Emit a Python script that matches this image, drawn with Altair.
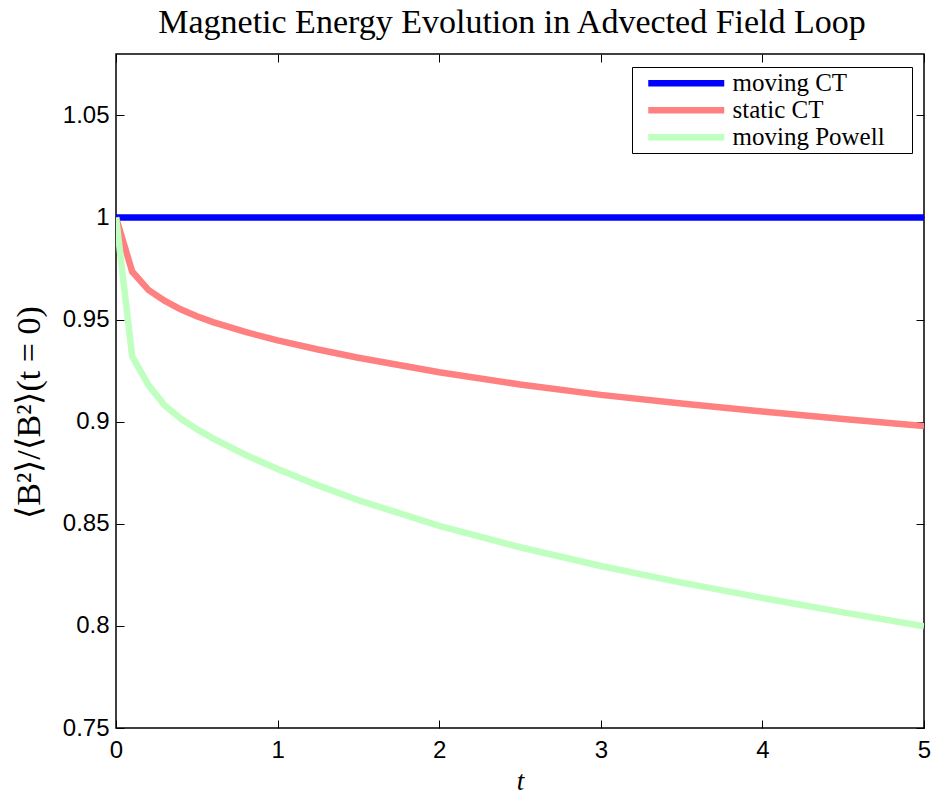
import altair as alt
import pandas as pd

# ---- data ----
t_static = [0.0, 0.1, 0.2, 0.3, 0.4, 0.5, 0.6, 0.8, 1.0, 1.25, 1.5, 2.0, 2.5, 3.0, 3.5, 4.0, 4.5, 5.0]
static_ct = [1.0, 0.9735, 0.9645, 0.9592, 0.955, 0.9516, 0.9487, 0.9439, 0.9398, 0.9353, 0.9313,
             0.9242, 0.9182, 0.9131, 0.9089, 0.905, 0.9013, 0.8978]

t_powell = [0.0, 0.1, 0.2, 0.3, 0.4, 0.5, 0.6, 0.8, 1.0, 1.25, 1.5, 2.0, 2.5, 3.0, 3.5, 4.0, 4.5, 5.0]
moving_powell = [1.0, 0.932, 0.918, 0.908, 0.9015, 0.8963, 0.8918, 0.8838, 0.8768, 0.8688, 0.8615,
                 0.849, 0.8385, 0.8293, 0.8212, 0.8137, 0.8066, 0.7998]

t_moving = [0.0, 1.0, 2.0, 3.0, 4.0, 5.0]
moving_ct = [1.0, 1.0, 1.0, 1.0, 1.0, 1.0]

series_names = ["moving CT", "static CT", "moving Powell"]
series_colors = ["#0000ff", "#ff8080", "#bfffbf"]

x_ticks = [0, 1, 2, 3, 4, 5]
y_ticks = [0.75, 0.8, 0.85, 0.9, 0.95, 1.0, 1.05]

rows = []
for name, ts, vs, order in [
    ("moving CT", t_moving, moving_ct, 0),
    ("static CT", t_static, static_ct, 1),
    ("moving Powell", t_powell, moving_powell, 2),
]:
    for t, v in zip(ts, vs):
        rows.append({"t": t, "ratio": v, "series": name, "ord": order})
df = pd.DataFrame(rows)

W, H = 808, 674
TICK = 8
SANS = "Liberation Sans"
SERIF = "Liberation Serif"

xscale = alt.Scale(domain=[0, 5], nice=False, zero=False)
yscale = alt.Scale(domain=[0.75, 1.08], nice=False, zero=False)

base = alt.Chart(df)

lines = base.mark_line(strokeWidth=6.5, clip=True).encode(
    x=alt.X("t:Q", scale=xscale,
            axis=alt.Axis(orient="bottom", values=x_ticks, ticks=False, tickSize=0, domain=False,
                          grid=False, labelFlush=False, labelFont=SANS, labelFontSize=24,
                          labelColor="black", labelPadding=10, format="d",
                          title="t", titleFont=SERIF, titleFontStyle="italic",
                          titleFontWeight="normal", titleFontSize=27, titleColor="black",
                          titlePadding=6)),
    y=alt.Y("ratio:Q", scale=yscale,
            axis=alt.Axis(orient="left", values=y_ticks, ticks=False, tickSize=0, domain=False,
                          grid=False, labelFont=SANS, labelFontSize=24, labelColor="black",
                          labelPadding=7, format=".3~g",
                          title="⟨B²⟩/⟨B²⟩(t = 0)", titleFont=SERIF,
                          titleFontWeight="normal", titleFontSize=34, titleColor="black",
                          titleX=-87, titleY=358, titleAngle=270, titleBaseline="middle",
                          titleAlign="center")),
    color=alt.Color("series:N",
                    scale=alt.Scale(domain=series_names, range=series_colors),
                    legend=alt.Legend(title=" ", titleOrient="right", titleFontSize=1,
                                      titlePadding=24,
                                      orient="none", legendX=516, legendY=13,
                                      symbolType="M-1,0H6.6", symbolStrokeWidth=6.5,
                                      symbolSize=400, labelFont=SERIF, labelFontSize=25,
                                      labelColor="black", labelOffset=60.75, labelLimit=400,
                                      strokeColor="black", fillColor="white",
                                      padding=2.75, rowPadding=0, symbolOffset=10,
                                      cornerRadius=0)),
    order=alt.Order("ord:Q"),
    detail="series:N",
)

ticks_in = base.mark_point(opacity=0).encode(
    x=alt.X("t:Q", scale=xscale,
            axis=alt.Axis(orient="bottom", offset=-TICK, values=x_ticks, tickSize=TICK,
                          tickColor="black", tickWidth=1, labels=False, domain=False,
                          grid=False, title=None)),
    y=alt.Y("ratio:Q", scale=yscale,
            axis=alt.Axis(orient="left", offset=-TICK, values=y_ticks, tickSize=TICK,
                          tickColor="black", tickWidth=1, labels=False, domain=False,
                          grid=False, title=None)),
)

ticks_mirror = base.mark_point(opacity=0).encode(
    x=alt.X("t:Q", scale=xscale,
            axis=alt.Axis(orient="top", offset=-TICK, values=x_ticks, tickSize=TICK,
                          tickColor="black", tickWidth=1, labels=False, domain=False,
                          grid=False, title=None)),
    y=alt.Y("ratio:Q", scale=yscale,
            axis=alt.Axis(orient="right", offset=-TICK, values=y_ticks, tickSize=TICK,
                          tickColor="black", tickWidth=1, labels=False, domain=False,
                          grid=False, title=None)),
)

chart = (
    alt.layer(ticks_in, ticks_mirror, lines)
    .resolve_axis(x="independent", y="independent")
    .properties(
        width=W, height=H,
        title=alt.TitleParams("Magnetic Energy Evolution in Advected Field Loop",
                              font=SERIF, fontSize=34, fontWeight="normal", color="black",
                              anchor="middle", frame="group", baseline="alphabetic",
                              offset=23, dy=36, dx=-8),
        autosize=alt.AutoSizeParams(type="none"),
        padding={"left": 116, "top": 54, "right": 10, "bottom": 67},
        background="white",
    )
    .configure_view(stroke="black", strokeWidth=1.5)
)

chart.save("out.html", embed_options={"renderer": "svg", "actions": False})
